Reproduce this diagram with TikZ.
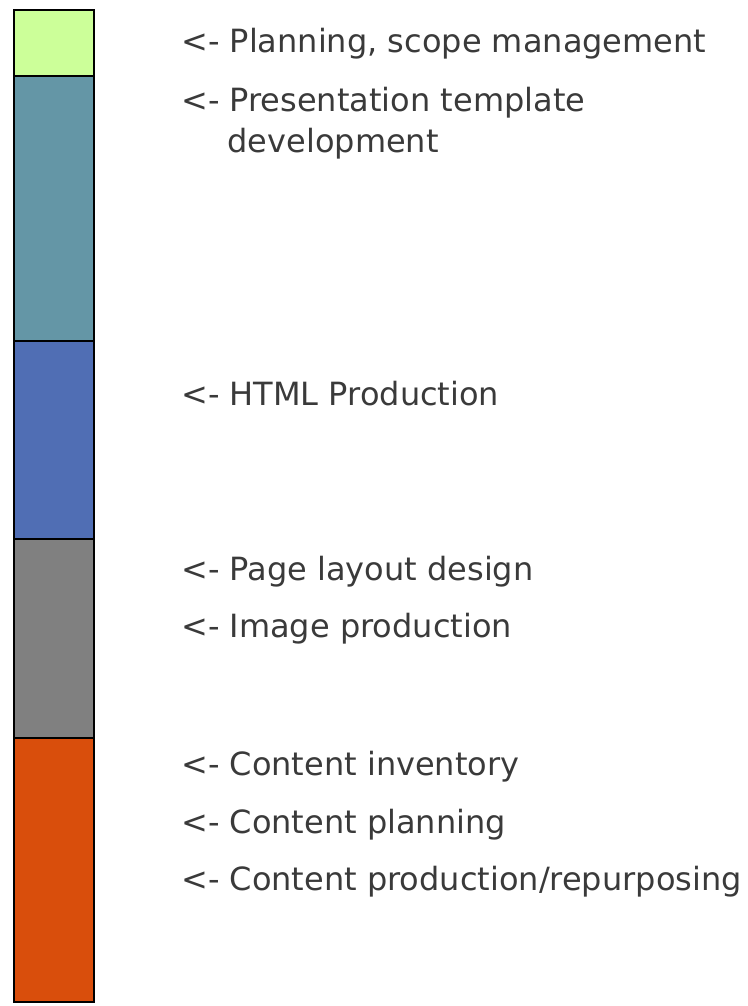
\documentclass[tikz,border=0pt]{standalone}
\usepackage{fontspec}
\setmainfont{DejaVu Sans}

\definecolor{planGreen}{HTML}{CCFF99}
\definecolor{tmplTeal}{HTML}{6496A6}
\definecolor{htmlBlue}{HTML}{506EB4}
\definecolor{layoutGray}{HTML}{808080}
\definecolor{contentOrange}{HTML}{D94E0C}
\definecolor{labelGray}{HTML}{3A3A3A}

\begin{document}
\begin{tikzpicture}[x=1pt, y=-1pt,
    segment/.style={draw=black, line width=1.6pt},
    phase/.style={anchor=base west, inner sep=0pt, text=labelGray, font=\fontsize{32}{40}\selectfont, align=left}]

    % --- Configuration ---
    \def\barL{14} % left edge of the bar
    \def\barR{94} % right edge of the bar
    \def\textX{181} % left edge of the labels

    \useasboundingbox (0,0) rectangle (747,1006);

    % --- Bar segments ---
    \fill[planGreen] (\barL,10) rectangle (\barR,76);
    \fill[tmplTeal] (\barL,76) rectangle (\barR,341);
    \fill[htmlBlue] (\barL,341) rectangle (\barR,539);
    \fill[layoutGray] (\barL,539) rectangle (\barR,738);
    \fill[contentOrange] (\barL,738) rectangle (\barR,1002);
    \foreach \y in {76,341,539,738}
        \draw[segment] (\barL,\y) -- (\barR,\y);
    \draw[segment] (\barL,10) rectangle (\barR,1002);

    % --- Labels ---
    \node[phase] (planning) at (\textX,53) {<- Planning, scope management};
    \node[phase] (template) at (\textX,152) {<- Presentation template\\\hspace*{1.45em}development};
    \node[phase] (html) at (\textX,405) {<- HTML Production};
    \node[phase] (layout) at (\textX,580) {<- Page layout design};
    \node[phase] (image) at (\textX,637) {<- Image production};
    \node[phase] (inventory) at (\textX,775) {<- Content inventory};
    \node[phase] (contentplan) at (\textX,833) {<- Content planning};
    \node[phase] (production) at (\textX,890) {<- Content production/repurposing};

\end{tikzpicture}
\end{document}
